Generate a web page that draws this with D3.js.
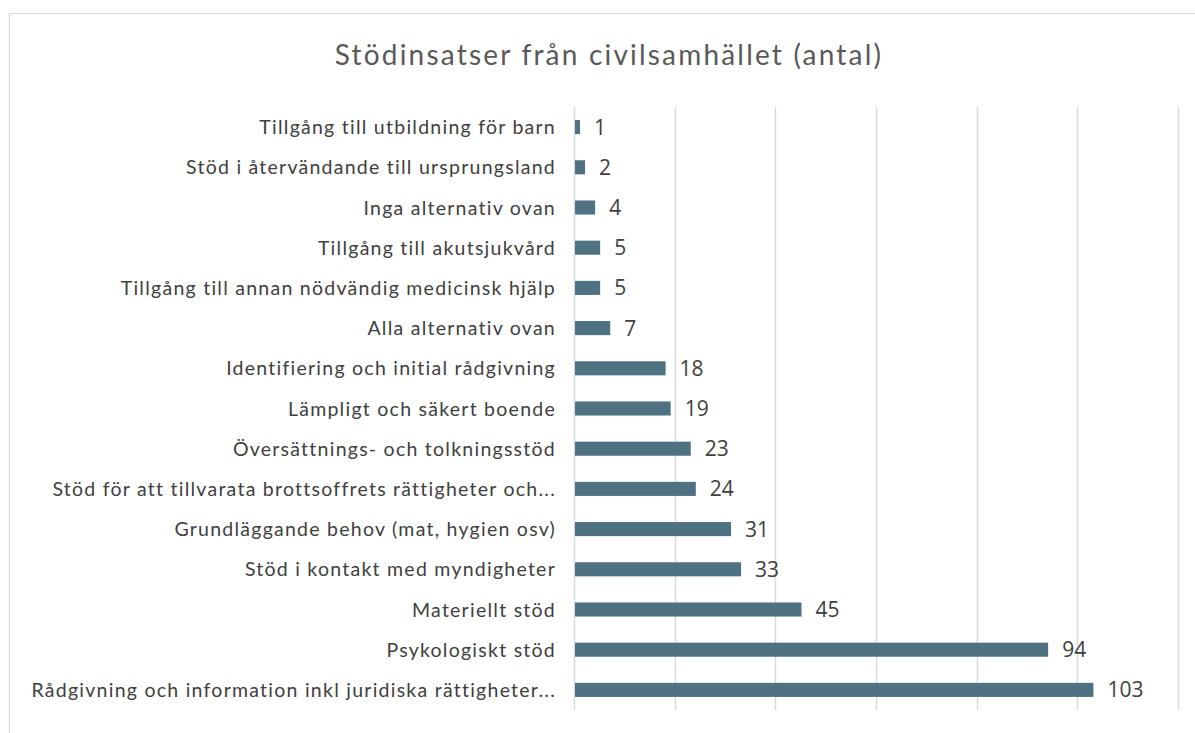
<!DOCTYPE html>
<html><head><meta charset="utf-8">
<script src="https://cdn.jsdelivr.net/npm/d3@7/dist/d3.min.js"></script>
<style>body{margin:0;background:#fff}svg{display:block}</style>
</head><body><svg id="c" width="1195" height="733"></svg>
<script>
const title = "Stödinsatser från civilsamhället (antal)";
const categories = [
  "Tillgång till utbildning för barn",
  "Stöd i återvändande till ursprungsland",
  "Inga alternativ ovan",
  "Tillgång till akutsjukvård",
  "Tillgång till annan nödvändig medicinsk hjälp",
  "Alla alternativ ovan",
  "Identifiering och initial rådgivning",
  "Lämpligt och säkert boende",
  "Översättnings- och tolkningsstöd",
  "Stöd för att tillvarata brottsoffrets rättigheter och...",
  "Grundläggande behov (mat, hygien osv)",
  "Stöd i kontakt med myndigheter",
  "Materiellt stöd",
  "Psykologiskt stöd",
  "Rådgivning och information inkl juridiska rättigheter..."
];
const values = [1, 2, 4, 5, 5, 7, 18, 19, 23, 24, 31, 33, 45, 94, 103];
const xTicks = [0, 20, 40, 60, 80, 100, 120];

const svg = d3.select("#c");
svg.append("rect").attr("x", 9.5).attr("y", 13.5).attr("width", 1200).attr("height", 740)
  .attr("fill", "#fff").attr("stroke", "#d9d9d9").attr("stroke-width", 1);

svg.append("text").attr("x", 609).attr("y", 65).attr("text-anchor", "middle")
  .attr("font-family", "Lato, sans-serif").attr("font-size", 28).attr("letter-spacing", 2.2)
  .attr("fill", "#595959")
  .text(title);

const x = d3.scaleLinear().domain([0, 120]).range([574, 1178]);
const y = d3.scaleBand().domain(categories).range([107, 710]).paddingInner(0.65).paddingOuter(0.325);

svg.append("g").selectAll("line").data(xTicks).join("line")
  .attr("x1", d => Math.round(x(d)) + 0.5).attr("x2", d => Math.round(x(d)) + 0.5)
  .attr("y1", 107).attr("y2", 710)
  .attr("stroke", "#d9d9d9").attr("stroke-width", 1.5);

svg.append("g").selectAll("rect").data(values).join("rect")
  .attr("x", x(0) + 1).attr("y", (d, i) => y(categories[i]))
  .attr("width", d => x(d) - x(0)).attr("height", y.bandwidth())
  .attr("fill", "#4e7282");

svg.append("g").selectAll("text").data(values).join("text")
  .attr("x", d => x(d) + 15).attr("y", (d, i) => y(categories[i]) + y.bandwidth() / 2)
  .attr("dy", "0.36em")
  .attr("font-family", "'Open Sans', sans-serif").attr("font-size", 21).attr("fill", "#404040")
  .text(d => d);

svg.append("g").selectAll("text").data(categories).join("text")
  .attr("x", 556).attr("y", d => y(d) + y.bandwidth() / 2).attr("dy", "0.36em")
  .attr("text-anchor", "end")
  .attr("font-family", "Lato, sans-serif").attr("font-size", 19.5).attr("letter-spacing", 1.25)
  .attr("fill", "#404040")
  .text(d => d);
</script></body></html>
